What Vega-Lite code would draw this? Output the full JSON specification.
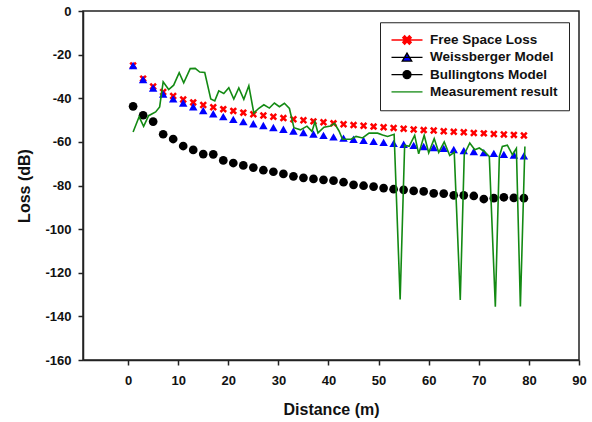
{
  "$schema": "https://vega.github.io/schema/vega-lite/v6.json",
  "width": 496,
  "height": 349,
  "autosize": {"type": "none"},
  "padding": {"left": 83, "top": 11, "right": 13, "bottom": 62},
  "background": "white",
  "data": {"values": [
    {"series": "Free Space Loss", "d": 1, "loss": -25.0},
    {"series": "Free Space Loss", "d": 3, "loss": -31.0},
    {"series": "Free Space Loss", "d": 5, "loss": -34.6},
    {"series": "Free Space Loss", "d": 7, "loss": -37.1},
    {"series": "Free Space Loss", "d": 9, "loss": -39.0},
    {"series": "Free Space Loss", "d": 11, "loss": -40.6},
    {"series": "Free Space Loss", "d": 13, "loss": -41.9},
    {"series": "Free Space Loss", "d": 15, "loss": -43.1},
    {"series": "Free Space Loss", "d": 17, "loss": -44.1},
    {"series": "Free Space Loss", "d": 19, "loss": -45.0},
    {"series": "Free Space Loss", "d": 21, "loss": -45.8},
    {"series": "Free Space Loss", "d": 23, "loss": -46.6},
    {"series": "Free Space Loss", "d": 25, "loss": -47.3},
    {"series": "Free Space Loss", "d": 27, "loss": -47.9},
    {"series": "Free Space Loss", "d": 29, "loss": -48.5},
    {"series": "Free Space Loss", "d": 31, "loss": -49.1},
    {"series": "Free Space Loss", "d": 33, "loss": -49.6},
    {"series": "Free Space Loss", "d": 35, "loss": -50.1},
    {"series": "Free Space Loss", "d": 37, "loss": -50.6},
    {"series": "Free Space Loss", "d": 39, "loss": -51.0},
    {"series": "Free Space Loss", "d": 41, "loss": -51.5},
    {"series": "Free Space Loss", "d": 43, "loss": -51.9},
    {"series": "Free Space Loss", "d": 45, "loss": -52.3},
    {"series": "Free Space Loss", "d": 47, "loss": -52.6},
    {"series": "Free Space Loss", "d": 49, "loss": -53.0},
    {"series": "Free Space Loss", "d": 51, "loss": -53.3},
    {"series": "Free Space Loss", "d": 53, "loss": -53.6},
    {"series": "Free Space Loss", "d": 55, "loss": -54.0},
    {"series": "Free Space Loss", "d": 57, "loss": -54.3},
    {"series": "Free Space Loss", "d": 59, "loss": -54.6},
    {"series": "Free Space Loss", "d": 61, "loss": -54.8},
    {"series": "Free Space Loss", "d": 63, "loss": -55.1},
    {"series": "Free Space Loss", "d": 65, "loss": -55.4},
    {"series": "Free Space Loss", "d": 67, "loss": -55.6},
    {"series": "Free Space Loss", "d": 69, "loss": -55.9},
    {"series": "Free Space Loss", "d": 71, "loss": -56.1},
    {"series": "Free Space Loss", "d": 73, "loss": -56.4},
    {"series": "Free Space Loss", "d": 75, "loss": -56.6},
    {"series": "Free Space Loss", "d": 77, "loss": -56.8},
    {"series": "Free Space Loss", "d": 79, "loss": -57.1},
    {"series": "Weissberger Model", "d": 1, "loss": -25.0},
    {"series": "Weissberger Model", "d": 3, "loss": -31.4},
    {"series": "Weissberger Model", "d": 5, "loss": -35.3},
    {"series": "Weissberger Model", "d": 7, "loss": -38.1},
    {"series": "Weissberger Model", "d": 9, "loss": -40.3},
    {"series": "Weissberger Model", "d": 11, "loss": -42.2},
    {"series": "Weissberger Model", "d": 13, "loss": -43.9},
    {"series": "Weissberger Model", "d": 15, "loss": -45.6},
    {"series": "Weissberger Model", "d": 17, "loss": -47.1},
    {"series": "Weissberger Model", "d": 19, "loss": -48.4},
    {"series": "Weissberger Model", "d": 21, "loss": -49.7},
    {"series": "Weissberger Model", "d": 23, "loss": -50.7},
    {"series": "Weissberger Model", "d": 25, "loss": -51.7},
    {"series": "Weissberger Model", "d": 27, "loss": -52.5},
    {"series": "Weissberger Model", "d": 29, "loss": -53.4},
    {"series": "Weissberger Model", "d": 31, "loss": -54.2},
    {"series": "Weissberger Model", "d": 33, "loss": -55.0},
    {"series": "Weissberger Model", "d": 35, "loss": -55.7},
    {"series": "Weissberger Model", "d": 37, "loss": -56.4},
    {"series": "Weissberger Model", "d": 39, "loss": -57.0},
    {"series": "Weissberger Model", "d": 41, "loss": -57.7},
    {"series": "Weissberger Model", "d": 43, "loss": -58.3},
    {"series": "Weissberger Model", "d": 45, "loss": -58.8},
    {"series": "Weissberger Model", "d": 47, "loss": -59.3},
    {"series": "Weissberger Model", "d": 49, "loss": -59.8},
    {"series": "Weissberger Model", "d": 51, "loss": -60.2},
    {"series": "Weissberger Model", "d": 53, "loss": -60.7},
    {"series": "Weissberger Model", "d": 55, "loss": -61.1},
    {"series": "Weissberger Model", "d": 57, "loss": -61.6},
    {"series": "Weissberger Model", "d": 59, "loss": -62.1},
    {"series": "Weissberger Model", "d": 61, "loss": -62.6},
    {"series": "Weissberger Model", "d": 63, "loss": -63.0},
    {"series": "Weissberger Model", "d": 65, "loss": -63.5},
    {"series": "Weissberger Model", "d": 67, "loss": -64.0},
    {"series": "Weissberger Model", "d": 69, "loss": -64.4},
    {"series": "Weissberger Model", "d": 71, "loss": -64.9},
    {"series": "Weissberger Model", "d": 73, "loss": -65.3},
    {"series": "Weissberger Model", "d": 75, "loss": -65.7},
    {"series": "Weissberger Model", "d": 77, "loss": -66.0},
    {"series": "Weissberger Model", "d": 79, "loss": -66.4},
    {"series": "Bullingtons Model", "d": 1, "loss": -43.7},
    {"series": "Bullingtons Model", "d": 3, "loss": -47.8},
    {"series": "Bullingtons Model", "d": 5, "loss": -50.7},
    {"series": "Bullingtons Model", "d": 7, "loss": -56.5},
    {"series": "Bullingtons Model", "d": 9, "loss": -58.7},
    {"series": "Bullingtons Model", "d": 11, "loss": -61.9},
    {"series": "Bullingtons Model", "d": 13, "loss": -63.7},
    {"series": "Bullingtons Model", "d": 15, "loss": -65.6},
    {"series": "Bullingtons Model", "d": 17, "loss": -65.7},
    {"series": "Bullingtons Model", "d": 19, "loss": -68.5},
    {"series": "Bullingtons Model", "d": 21, "loss": -69.7},
    {"series": "Bullingtons Model", "d": 23, "loss": -70.8},
    {"series": "Bullingtons Model", "d": 25, "loss": -71.8},
    {"series": "Bullingtons Model", "d": 27, "loss": -73.0},
    {"series": "Bullingtons Model", "d": 29, "loss": -73.7},
    {"series": "Bullingtons Model", "d": 31, "loss": -74.7},
    {"series": "Bullingtons Model", "d": 33, "loss": -75.8},
    {"series": "Bullingtons Model", "d": 35, "loss": -76.5},
    {"series": "Bullingtons Model", "d": 37, "loss": -77.0},
    {"series": "Bullingtons Model", "d": 39, "loss": -77.4},
    {"series": "Bullingtons Model", "d": 41, "loss": -77.8},
    {"series": "Bullingtons Model", "d": 43, "loss": -78.5},
    {"series": "Bullingtons Model", "d": 45, "loss": -79.7},
    {"series": "Bullingtons Model", "d": 47, "loss": -80.1},
    {"series": "Bullingtons Model", "d": 49, "loss": -80.5},
    {"series": "Bullingtons Model", "d": 51, "loss": -81.2},
    {"series": "Bullingtons Model", "d": 53, "loss": -81.7},
    {"series": "Bullingtons Model", "d": 55, "loss": -82.0},
    {"series": "Bullingtons Model", "d": 57, "loss": -82.5},
    {"series": "Bullingtons Model", "d": 59, "loss": -82.7},
    {"series": "Bullingtons Model", "d": 61, "loss": -83.6},
    {"series": "Bullingtons Model", "d": 63, "loss": -83.7},
    {"series": "Bullingtons Model", "d": 65, "loss": -84.5},
    {"series": "Bullingtons Model", "d": 67, "loss": -84.5},
    {"series": "Bullingtons Model", "d": 69, "loss": -84.8},
    {"series": "Bullingtons Model", "d": 71, "loss": -86.2},
    {"series": "Bullingtons Model", "d": 73, "loss": -85.8},
    {"series": "Bullingtons Model", "d": 75, "loss": -85.4},
    {"series": "Bullingtons Model", "d": 77, "loss": -85.7},
    {"series": "Bullingtons Model", "d": 79, "loss": -85.8},
    {"series": "Measurement result", "d": 1, "loss": -55.5},
    {"series": "Measurement result", "d": 2.2, "loss": -48.5},
    {"series": "Measurement result", "d": 3.1, "loss": -52.9},
    {"series": "Measurement result", "d": 4.1, "loss": -48.0},
    {"series": "Measurement result", "d": 5.5, "loss": -46.3},
    {"series": "Measurement result", "d": 6.3, "loss": -44.0},
    {"series": "Measurement result", "d": 7.0, "loss": -32.5},
    {"series": "Measurement result", "d": 8.1, "loss": -36.0},
    {"series": "Measurement result", "d": 9.1, "loss": -34.0},
    {"series": "Measurement result", "d": 10.2, "loss": -28.3},
    {"series": "Measurement result", "d": 11.1, "loss": -32.9},
    {"series": "Measurement result", "d": 12.4, "loss": -26.4},
    {"series": "Measurement result", "d": 13.4, "loss": -26.3},
    {"series": "Measurement result", "d": 14.3, "loss": -28.0},
    {"series": "Measurement result", "d": 15.3, "loss": -28.2},
    {"series": "Measurement result", "d": 16.5, "loss": -40.3},
    {"series": "Measurement result", "d": 17.3, "loss": -41.2},
    {"series": "Measurement result", "d": 18.1, "loss": -36.6},
    {"series": "Measurement result", "d": 19.1, "loss": -37.8},
    {"series": "Measurement result", "d": 20.1, "loss": -35.2},
    {"series": "Measurement result", "d": 21.1, "loss": -40.4},
    {"series": "Measurement result", "d": 22.1, "loss": -35.3},
    {"series": "Measurement result", "d": 23.1, "loss": -40.5},
    {"series": "Measurement result", "d": 24.1, "loss": -34.3},
    {"series": "Measurement result", "d": 25.1, "loss": -46.8},
    {"series": "Measurement result", "d": 26.1, "loss": -44.6},
    {"series": "Measurement result", "d": 27.1, "loss": -43.0},
    {"series": "Measurement result", "d": 28.2, "loss": -44.5},
    {"series": "Measurement result", "d": 29.2, "loss": -42.2},
    {"series": "Measurement result", "d": 30.2, "loss": -43.9},
    {"series": "Measurement result", "d": 31.2, "loss": -42.3},
    {"series": "Measurement result", "d": 32.2, "loss": -44.7},
    {"series": "Measurement result", "d": 33.1, "loss": -53.5},
    {"series": "Measurement result", "d": 34.4, "loss": -54.5},
    {"series": "Measurement result", "d": 35.7, "loss": -52.8},
    {"series": "Measurement result", "d": 36.7, "loss": -55.2},
    {"series": "Measurement result", "d": 37.3, "loss": -50.8},
    {"series": "Measurement result", "d": 37.9, "loss": -55.9},
    {"series": "Measurement result", "d": 39.1, "loss": -53.3},
    {"series": "Measurement result", "d": 40.4, "loss": -52.7},
    {"series": "Measurement result", "d": 41.2, "loss": -51.5},
    {"series": "Measurement result", "d": 42.1, "loss": -55.0},
    {"series": "Measurement result", "d": 42.8, "loss": -58.8},
    {"series": "Measurement result", "d": 44.5, "loss": -58.8},
    {"series": "Measurement result", "d": 45.5, "loss": -57.5},
    {"series": "Measurement result", "d": 46.8, "loss": -58.2},
    {"series": "Measurement result", "d": 48.1, "loss": -56.0},
    {"series": "Measurement result", "d": 49.8, "loss": -56.0},
    {"series": "Measurement result", "d": 50.8, "loss": -56.8},
    {"series": "Measurement result", "d": 51.8, "loss": -57.5},
    {"series": "Measurement result", "d": 53.1, "loss": -56.5},
    {"series": "Measurement result", "d": 54.3, "loss": -132.2},
    {"series": "Measurement result", "d": 55.2, "loss": -61.5},
    {"series": "Measurement result", "d": 56.1, "loss": -62.0},
    {"series": "Measurement result", "d": 57.2, "loss": -57.0},
    {"series": "Measurement result", "d": 58.0, "loss": -65.5},
    {"series": "Measurement result", "d": 59.1, "loss": -57.0},
    {"series": "Measurement result", "d": 60.0, "loss": -65.0},
    {"series": "Measurement result", "d": 61.1, "loss": -58.5},
    {"series": "Measurement result", "d": 62.0, "loss": -64.8},
    {"series": "Measurement result", "d": 63.1, "loss": -60.0},
    {"series": "Measurement result", "d": 64.2, "loss": -66.3},
    {"series": "Measurement result", "d": 65.1, "loss": -64.8},
    {"series": "Measurement result", "d": 66.3, "loss": -132.5},
    {"series": "Measurement result", "d": 67.1, "loss": -65.8},
    {"series": "Measurement result", "d": 68.2, "loss": -60.5},
    {"series": "Measurement result", "d": 69.2, "loss": -63.6},
    {"series": "Measurement result", "d": 70.1, "loss": -62.8},
    {"series": "Measurement result", "d": 71.1, "loss": -64.4},
    {"series": "Measurement result", "d": 72.1, "loss": -66.7},
    {"series": "Measurement result", "d": 73.3, "loss": -135.6},
    {"series": "Measurement result", "d": 74.1, "loss": -66.7},
    {"series": "Measurement result", "d": 74.7, "loss": -62.1},
    {"series": "Measurement result", "d": 75.7, "loss": -61.5},
    {"series": "Measurement result", "d": 76.7, "loss": -65.9},
    {"series": "Measurement result", "d": 77.5, "loss": -63.0},
    {"series": "Measurement result", "d": 78.3, "loss": -135.5},
    {"series": "Measurement result", "d": 79.2, "loss": -62.1}
  ]},
  "layer": [
    {
      "mark": {"type": "point", "opacity": 0, "size": 100},
      "encoding": {
        "x": {
          "field": "d", "type": "quantitative", "title": "Distance (m)",
          "scale": {"domain": [-9, 90], "nice": false, "zero": false},
          "axis": {"values": [0, 10, 20, 30, 40, 50, 60, 70, 80, 90], "labelFlush": false}
        },
        "y": {
          "field": "loss", "type": "quantitative", "title": "Loss (dB)",
          "scale": {"domain": [-160, 0], "nice": false},
          "axis": {"values": [0, -20, -40, -60, -80, -100, -120, -140, -160],
                   "labelExpr": "datum.value < 0 ? '-' + abs(datum.value) : '' + datum.value"}
        },
        "fill": {
          "field": "series", "type": "nominal",
          "scale": {"domain": ["Free Space Loss", "Weissberger Model", "Bullingtons Model", "Measurement result"],
                    "range": ["#ff0000", "#0000ff", "#000000", "transparent"]},
          "legend": {
            "orient": "none", "legendX": 297, "legendY": 11.25, "title": null,
            "padding": 11, "strokeColor": "#222", "fillColor": "white",
            "symbolSize": 100, "symbolStrokeWidth": 1.3, "symbolOffset": 9.25, "symbolOpacity": 1,
            "labelOffset": 16.25, "labelFont": "Liberation Sans", "labelFontSize": 13.5,
            "labelFontWeight": "bold", "labelColor": "#111", "rowPadding": 2.3, "labelLimit": 300
          }
        },
        "stroke": {
          "field": "series", "type": "nominal",
          "scale": {"domain": ["Free Space Loss", "Weissberger Model", "Bullingtons Model", "Measurement result"],
                    "range": ["#ff0000", "#000000", "#000000", "#138a13"]},
          "legend": {
            "orient": "none", "legendX": 297, "legendY": 11.25, "title": null,
            "padding": 11, "strokeColor": "#222", "fillColor": "white",
            "symbolSize": 100, "symbolStrokeWidth": 1.3, "symbolOffset": 9.25, "symbolOpacity": 1,
            "labelOffset": 16.25, "labelFont": "Liberation Sans", "labelFontSize": 13.5,
            "labelFontWeight": "bold", "labelColor": "#111", "rowPadding": 2.3, "labelLimit": 300
          }
        },
        "shape": {
          "field": "series", "type": "nominal",
          "scale": {"domain": ["Free Space Loss", "Weissberger Model", "Bullingtons Model", "Measurement result"],
                    "range": [
                      "M-3.1,0L3.1,0M-0.47,-0.85L0,-0.38L0.47,-0.85L0.85,-0.47L0.38,0L0.85,0.47L0.47,0.85L0,0.38L-0.47,0.85L-0.85,0.47L-0.38,0L-0.85,-0.47Z",
                      "M-3.1,0L3.1,0M0,-0.85L0.95,0.75L-0.95,0.75Z",
                      "M-3.1,0L3.1,0M0.8,0A0.8,0.8,0,1,1,-0.8,0A0.8,0.8,0,1,1,0.8,0Z",
                      "M-3.1,0L3.1,0"
                    ]},
          "legend": {
            "orient": "none", "legendX": 297, "legendY": 11.25, "title": null,
            "padding": 11, "strokeColor": "#222", "fillColor": "white",
            "symbolSize": 100, "symbolStrokeWidth": 1.3, "symbolOffset": 9.25, "symbolOpacity": 1,
            "labelOffset": 16.25, "labelFont": "Liberation Sans", "labelFontSize": 13.5,
            "labelFontWeight": "bold", "labelColor": "#111", "rowPadding": 2.3, "labelLimit": 300
          }
        }
      }
    },
    {
      "transform": [{"filter": "datum.series === 'Free Space Loss'"}],
      "mark": {"type": "point", "filled": true, "opacity": 1, "size": 72, "color": "#ff0000",
               "shape": "M-0.46,-0.88L0,-0.42L0.46,-0.88L0.88,-0.46L0.42,0L0.88,0.46L0.46,0.88L0,0.42L-0.46,0.88L-0.88,0.46L-0.42,0L-0.88,-0.46Z"},
      "encoding": {
        "x": {"field": "d", "type": "quantitative"},
        "y": {"field": "loss", "type": "quantitative"}
      }
    },
    {
      "transform": [{"filter": "datum.series === 'Weissberger Model'"}],
      "mark": {"type": "point", "filled": true, "opacity": 1, "size": 72, "color": "#0000ff", "shape": "triangle-up"},
      "encoding": {
        "x": {"field": "d", "type": "quantitative"},
        "y": {"field": "loss", "type": "quantitative"}
      }
    },
    {
      "transform": [{"filter": "datum.series === 'Bullingtons Model'"}],
      "mark": {"type": "point", "filled": true, "opacity": 1, "size": 76, "color": "#000000", "shape": "circle"},
      "encoding": {
        "x": {"field": "d", "type": "quantitative"},
        "y": {"field": "loss", "type": "quantitative"}
      }
    },
    {
      "transform": [{"filter": "datum.series === 'Measurement result'"}],
      "mark": {"type": "line", "strokeWidth": 1.6, "color": "#138a13"},
      "encoding": {
        "x": {"field": "d", "type": "quantitative"},
        "y": {"field": "loss", "type": "quantitative"}
      }
    }
  ],
  "config": {
    "view": {"stroke": "#222", "strokeWidth": 1.5},
    "axis": {
      "grid": false, "domainColor": "#222", "domainWidth": 1.5,
      "tickColor": "#222", "tickWidth": 1.5, "tickSize": 5,
      "labelFont": "Liberation Sans", "labelFontSize": 13, "labelFontWeight": "bold", "labelColor": "#111",
      "titleFont": "Liberation Sans", "titleFontSize": 16, "titleFontWeight": "bold", "titleColor": "#111"
    },
    "axisX": {"labelPadding": 9, "titlePadding": 14, "labelAngle": 0},
    "axisY": {"labelPadding": 7, "titlePadding": 12}
  }
}
